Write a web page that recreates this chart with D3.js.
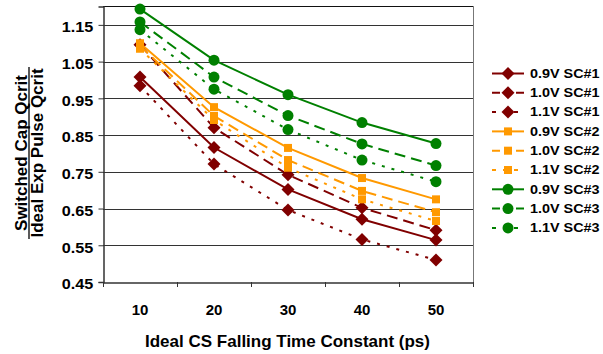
<!DOCTYPE html>
<html>
<head>
<script src="https://d3js.org/d3.v7.min.js"></script>
<style>
  body { margin: 0; padding: 0; background: #fff; }
  text { font-family: Arial, "Liberation Sans", sans-serif; font-weight: bold; fill: #000; }
</style>
</head>
<body>
<script>
// categories and values
var times = [10, 20, 30, 40, 50];
var yTicks = [0.45, 0.55, 0.65, 0.75, 0.85, 0.95, 1.05, 1.15];

var sc1_09 = [1.008, 0.816, 0.702, 0.621, 0.564];
var sc1_10 = [1.096, 0.870, 0.742, 0.652, 0.591];
var sc1_11 = [0.984, 0.771, 0.646, 0.566, 0.510];
var sc2_09 = [1.100, 0.926, 0.815, 0.733, 0.675];
var sc2_10 = [1.093, 0.902, 0.782, 0.698, 0.640];
var sc2_11 = [1.085, 0.891, 0.761, 0.675, 0.616];
var sc3_09 = [1.193, 1.054, 0.960, 0.884, 0.827];
var sc3_10 = [1.158, 1.008, 0.903, 0.826, 0.767];
var sc3_11 = [1.137, 0.975, 0.865, 0.782, 0.723];

var series = [
  { name: "0.9V SC#1", values: sc1_09, color: "#800000", dash: null, marker: "diamond" },
  { name: "1.0V SC#1", values: sc1_10, color: "#800000", dash: "11,6", marker: "diamond" },
  { name: "1.1V SC#1", values: sc1_11, color: "#800000", dash: "3,7", marker: "diamond" },
  { name: "0.9V SC#2", values: sc2_09, color: "#FF9900", dash: null, marker: "square" },
  { name: "1.0V SC#2", values: sc2_10, color: "#FF9900", dash: "11,6", marker: "square" },
  { name: "1.1V SC#2", values: sc2_11, color: "#FF9900", dash: "3,7", marker: "square" },
  { name: "0.9V SC#3", values: sc3_09, color: "#008000", dash: null, marker: "circle" },
  { name: "1.0V SC#3", values: sc3_10, color: "#008000", dash: "11,6", marker: "circle" },
  { name: "1.1V SC#3", values: sc3_11, color: "#008000", dash: "3,7", marker: "circle" }
];

var width = 603, height = 354;
var plotLeft = 103, plotRight = 473, plotTop = 6.5, plotBottom = 282;

var svg = d3.select("body").append("svg")
  .attr("width", width)
  .attr("height", height);

var x = d3.scaleBand().domain(times).range([plotLeft, plotRight]);
var y = d3.scaleLinear().domain([0.45, 1.2]).range([plotBottom, plotTop]);

// gridlines
svg.append("g").selectAll("line")
  .data(yTicks.filter(function(d) { return d > 0.46; }))
  .enter().append("line")
  .attr("x1", plotLeft).attr("x2", plotRight)
  .attr("y1", function(d) { return Math.round(y(d)) + 0.5; })
  .attr("y2", function(d) { return Math.round(y(d)) + 0.5; })
  .attr("stroke", "#333").attr("stroke-width", 1);

// plot frame top and right
svg.append("line").attr("x1", plotLeft).attr("x2", plotRight + 0.5).attr("y1", 6.5).attr("y2", 6.5)
  .attr("stroke", "#111");
svg.append("line").attr("x1", plotRight + 0.5).attr("x2", plotRight + 0.5).attr("y1", 6.5).attr("y2", plotBottom)
  .attr("stroke", "#777");

// y axis
var yAxis = svg.append("g")
  .attr("transform", "translate(" + (plotLeft + 0.5) + ",0)")
  .call(d3.axisLeft(y).tickValues(yTicks).tickFormat(d3.format(".2f")).tickSize(5).tickPadding(11));
yAxis.select(".domain").attr("stroke", "#333").attr("stroke-width", 1.5);
yAxis.selectAll(".tick line").attr("stroke", "#333");
yAxis.selectAll(".tick text")
  .style("font-size", "15px")
  .attr("dy", "0.45em")
  .attr("transform", "translate(-88,0) scale(1.08,1) translate(88,0)");

// x axis
var xAxis = svg.append("g")
  .attr("transform", "translate(0," + (plotBottom + 0.5) + ")")
  .call(d3.axisBottom(x).tickSize(0).tickPadding(22));
xAxis.select(".domain").attr("stroke", "#333").attr("stroke-width", 1.5);
xAxis.selectAll("text").style("font-size", "15px");
// category boundary ticks
svg.append("g").selectAll("line")
  .data([times[0] - 10].concat(times))
  .enter().append("line")
  .attr("x1", function(d, i) { return Math.round(plotLeft + i * x.bandwidth()) + 0.5; })
  .attr("x2", function(d, i) { return Math.round(plotLeft + i * x.bandwidth()) + 0.5; })
  .attr("y1", plotBottom).attr("y2", plotBottom + 5)
  .attr("stroke", "#333");

// axis titles
svg.append("text")
  .attr("x", 287.5).attr("y", 347)
  .attr("text-anchor", "middle")
  .style("font-size", "17px")
  .text("Ideal CS Falling Time Constant (ps)");

var yt = svg.append("g").attr("transform", "translate(29,153) rotate(-90)");
yt.append("text").attr("x", 0).attr("y", -2.5).attr("text-anchor", "middle")
  .style("font-size", "17px").text("Switched Cap Qcrit");
yt.append("line").attr("x1", -86).attr("x2", 86).attr("y1", 0).attr("y2", 0)
  .attr("stroke", "#000").attr("stroke-width", 1.3);
yt.append("text").attr("x", 0).attr("y", 14).attr("text-anchor", "middle")
  .style("font-size", "17px").text("Ideal Exp Pulse Qcrit");

var cx = function(i) { return x(times[i]) + x.bandwidth() / 2; };

function drawMarker(g, type, color, px, py) {
  if (type === "diamond") {
    g.append("path")
      .attr("d", "M" + px + "," + (py - 6.5) + "L" + (px + 6.5) + "," + py + "L" + px + "," + (py + 6.5) + "L" + (px - 6.5) + "," + py + "Z")
      .attr("fill", color);
  } else if (type === "square") {
    g.append("rect").attr("x", px - 4).attr("y", py - 4).attr("width", 8).attr("height", 8)
      .attr("fill", color);
  } else {
    g.append("circle").attr("cx", px).attr("cy", py).attr("r", 5.5).attr("fill", color);
  }
}

var line = d3.line()
  .x(function(d, i) { return cx(i); })
  .y(function(d) { return y(d); });

series.forEach(function(s) {
  var g = svg.append("g");
  g.append("path")
    .attr("d", line(s.values))
    .attr("fill", "none")
    .attr("stroke", s.color)
    .attr("stroke-width", 2)
    .attr("stroke-dasharray", s.dash);
  s.values.forEach(function(v, i) {
    drawMarker(g, s.marker, s.color, cx(i), y(v));
  });
});

// legend
var legend = svg.append("g");
series.forEach(function(s, i) {
  var ly = 73.5 + i * 19.3;
  var g = legend.append("g");
  g.append("line").attr("x1", 492).attr("x2", 524).attr("y1", ly).attr("y2", ly)
    .attr("stroke", s.color).attr("stroke-width", 2)
    .attr("stroke-dasharray", s.dash ? (s.dash === "3,7" ? "4,7" : "8,4") : null);
  drawMarker(g, s.marker, s.color, 508, ly);
  g.append("text")
    .attr("transform", "translate(530," + ly + ") scale(1.2,1)")
    .attr("dy", "0.36em")
    .style("font-size", "12px").text(s.name);
});
</script>
</body>
</html>
